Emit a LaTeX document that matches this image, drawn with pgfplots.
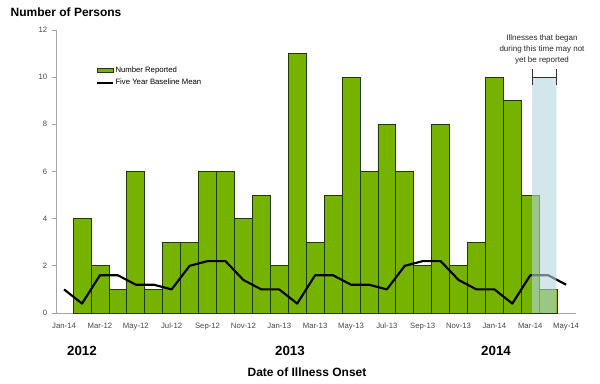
\documentclass[border=0pt]{standalone}
\usepackage{fontspec}
\setmainfont{Liberation Sans}
\usepackage{pgfplots}
\pgfplotsset{compat=1.18}
\definecolor{bargreen}{RGB}{118,178,0}
\definecolor{baredge}{RGB}{35,55,10}
\definecolor{shade}{RGB}{180,213,223}
\definecolor{axgray}{RGB}{165,165,165}
\definecolor{ticktext}{RGB}{70,70,70}
\begin{document}
\begin{tikzpicture}[x=1pt,y=1pt]
\path[use as bounding box] (0,0) rectangle (450,288);
\begin{axis}[
  at={(42pt,53.25pt)}, anchor=south west,
  scale only axis, width=390pt, height=212.25pt,
  xmin=-0.45, xmax=28.55, ymin=0, ymax=12,
  axis x line*=bottom, axis y line*=left,
  axis line style={draw=axgray, line width=0.6pt},
  ytick={0,2,...,12},
  xtick={0,2,...,28},
  xticklabels={Jan-14,Mar-12,May-12,Jul-12,Sep-12,Nov-12,Jan-13,Mar-13,May-13,Jul-13,Sep-13,Nov-13,Jan-14,Mar-14,May-14},
  y tick style={draw=axgray, line width=0.6pt},
  x tick style={draw=none},
  tick align=outside, major tick length=3pt,
  tick label style={font=\fontsize{5.8}{7}\selectfont, text=ticktext},
  xticklabel style={yshift=-0.8pt},
  /pgf/number format/assume math mode=true,
  legend style={at={(axis description cs:0.077,0.875)}, anchor=north west,
    draw=none, fill=none, font=\fontsize{5.8}{7}\selectfont,
    row sep=1.8pt, inner sep=0pt, outer sep=0pt,
    nodes={inner sep=1pt}},
  legend cell align=left,
  clip=false,
]
\addplot[ybar, bar width=1, bar shift=0, fill=bargreen, draw=baredge, line width=0.5pt,
  legend image code/.code={\draw[fill=bargreen, draw=baredge, line width=0.5pt] (0pt,-1.6pt) rectangle (12pt,1.6pt);}]
  coordinates {
  (1,4) (2,2) (3,1) (4,6) (5,1) (6,3) (7,3) (8,6) (9,6) (10,4) (11,5) (12,2)
  (13,11) (14,3) (15,5) (16,10) (17,6) (18,8) (19,6) (20,2) (21,8) (22,2) (23,3)
  (24,10) (25,9) (26,5) (27,1)};
\addlegendentry{Number Reported}
\addplot[black, line width=1.6pt, line join=round,
  legend image code/.code={\draw[black, line width=1.6pt] (0pt,0pt) -- (12pt,0pt);}]
  coordinates {
  (0,1.0) (1,0.4) (2,1.6) (3,1.6) (4,1.2) (5,1.2) (6,1.0) (7,2.0) (8,2.2) (9,2.2) (10,1.4) (11,1.0)
  (12,1.0) (13,0.4) (14,1.6) (15,1.6) (16,1.2) (17,1.2) (18,1.0) (19,2.0) (20,2.2) (21,2.2) (22,1.4) (23,1.0)
  (24,1.0) (25,0.4) (26,1.6) (27,1.6) (28,1.2)};
\addlegendentry{Five Year Baseline Mean}
\addplot[draw=none, fill=shade, fill opacity=0.6, forget plot]
  coordinates {(26.1,0) (26.1,10) (27.45,10) (27.45,0)} \closedcycle;
\addplot[draw=black!80, line width=0.6pt, forget plot] coordinates {(26.1,10) (27.45,10)};
\addplot[draw=black!80, line width=0.6pt, forget plot] coordinates {(26.1,9.65) (26.1,10.35)};
\addplot[draw=black!80, line width=0.6pt, forget plot] coordinates {(27.45,9.65) (27.45,10.35)};
\end{axis}
\node[anchor=west, font=\fontsize{9}{11}\selectfont\bfseries] at (4.5,279) {Number of Persons};
\node[font=\fontsize{10}{12}\selectfont\bfseries] at (61.5,24.75) {2012};
\node[font=\fontsize{10}{12}\selectfont\bfseries] at (217.5,24.75) {2013};
\node[font=\fontsize{10}{12}\selectfont\bfseries] at (372,24.75) {2014};
\node[font=\fontsize{9}{11}\selectfont\bfseries] at (230.25,9) {Date of Illness Onset};
\node[align=center, font=\fontsize{6}{8.25}\selectfont, text=black!85] at (406.5,251) {Illnesses that began\\during this time may not\\yet be reported};
\end{tikzpicture}
\end{document}
